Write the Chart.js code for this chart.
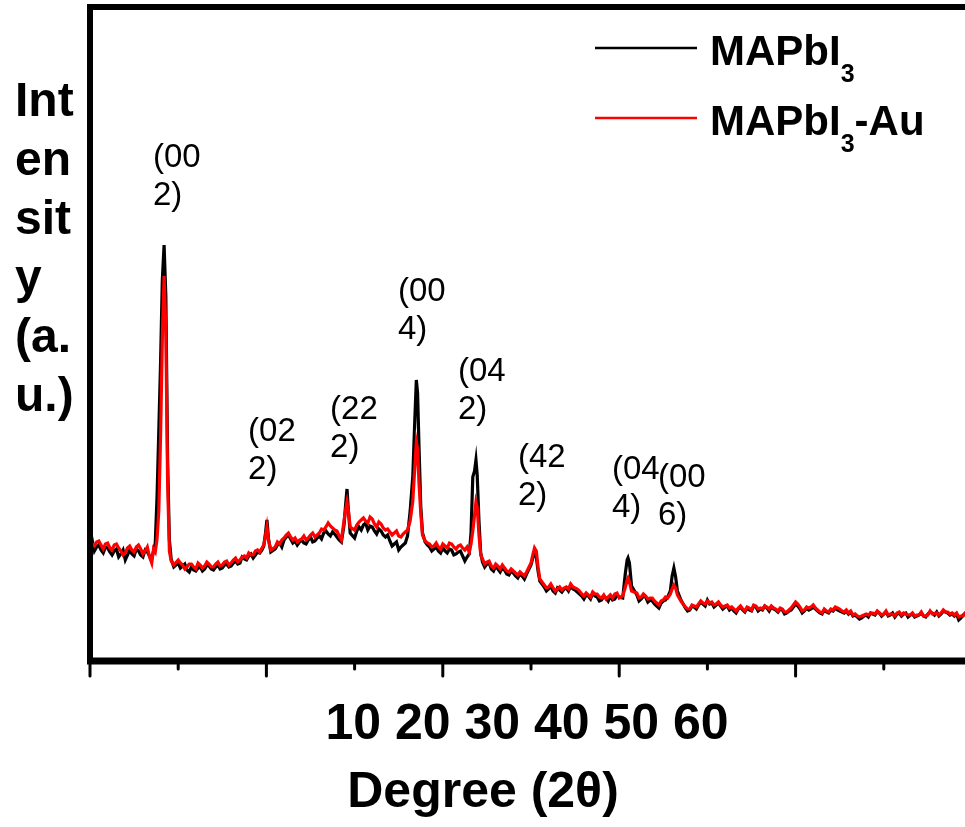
<!DOCTYPE html>
<html><head><meta charset="utf-8">
<script src="https://cdn.jsdelivr.net/npm/chart.js@4.4.1/dist/chart.umd.min.js"></script>
<style>
html,body{margin:0;padding:0;background:#fff;overflow:hidden;width:965px;height:827px;}
#wrap{position:absolute;left:0;top:0;width:975px;height:827px;}
</style></head><body>
<div id="wrap"><canvas id="c" width="975" height="827"></canvas></div>
<script>
// 2-theta positions (degrees)
const twoTheta = [
 10,10.125,10.25,10.375,10.5,10.625,10.75,10.875,11,11.125,11.25,11.375,11.5,11.625,11.75,11.875,12,12.125,12.25,12.375,12.5,12.625,12.75,12.875,13,13.125,13.25,13.375,13.5,
 13.6,13.7,13.8,13.9,14.0,14.1,14.2,14.3,14.4,14.5,14.6,14.75,
 15,15.125,15.25,15.375,15.5,15.625,15.75,15.875,16,16.125,16.25,16.375,16.5,16.625,16.75,16.875,17,17.125,17.25,17.375,17.5,17.625,17.75,17.875,18,18.125,18.25,18.375,18.5,18.625,18.75,18.875,19,19.125,19.25,19.375,19.5,19.625,19.75,
 19.85,19.95,20.03,20.12,20.25,
 20.5,20.625,20.75,20.875,21,21.125,21.25,21.375,21.5,21.625,21.75,21.875,22,22.125,22.25,22.375,22.5,22.625,22.75,22.875,23,23.125,23.25,23.375,23.5,23.625,23.75,23.875,24,24.125,24.25,
 24.4,24.5,24.57,24.65,24.75,
 25,25.125,25.25,25.375,25.5,25.625,25.75,25.875,26,26.125,26.25,26.375,26.5,26.625,26.75,26.875,27,27.125,27.25,27.375,27.5,27.625,27.75,27.875,28,
 28.15,28.3,28.4,28.5,28.57,28.65,28.75,28.85,
 29,29.125,29.25,29.375,29.5,29.625,29.75,29.875,30,30.125,30.25,30.375,30.5,30.625,30.75,30.875,31,31.125,31.25,31.375,31.5,
 31.6,31.7,31.8,31.88,31.95,32.05,32.15,
 32.25,32.375,32.5,32.625,32.75,32.875,33,33.125,33.25,33.375,33.5,33.625,33.75,33.875,34,34.125,34.25,34.375,34.5,34.625,34.75,
 35.0,35.1,35.2,35.3,35.4,35.5,
 35.75,35.875,36,36.125,36.25,36.375,36.5,36.625,36.75,36.875,37,37.125,37.25,37.375,37.5,37.625,37.75,37.875,38,38.125,38.25,38.375,38.5,38.625,38.75,38.875,39,39.125,39.25,39.375,39.5,39.625,39.75,39.875,40,40.2,
 40.35,40.45,40.5,40.58,40.7,
 41,41.125,41.25,41.375,41.5,41.625,41.75,41.875,42,42.125,42.25,42.375,42.5,42.625,42.75,42.9,
 43.0,43.1,43.2,43.3,43.5,
 43.75,43.875,44,44.125,44.25,44.375,44.5,44.625,44.75,44.875,45,
 45.125,45.25,45.375,45.5,45.625,45.75,45.875,46,
 46.125,46.25,46.375,46.5,46.625,46.75,46.875,47,
 47.125,47.25,47.375,47.5,47.625,47.75,47.875,48,
 48.125,48.25,48.375,48.5,48.625,48.75,48.875,49,
 49.125,49.25,49.375,49.5,49.625,49.75,49.875,50,
 50.125,50.25,50.375,50.5,50.625,50.75,50.875,51,
 51.125,51.25,51.375,51.5,51.625,51.75,51.875,52,
 52.125,52.25,52.375,52.5,52.625,52.75,52.875,53,
 53.125,53.25,53.375,53.5,53.625,53.75,53.875,54,
 54.125,54.25,54.375,54.5,54.625,54.75,54.875,55,
 55.125,55.25,55.375,55.5,55.625,55.75,55.875,56,
 56.125,56.25,56.375,56.5,56.625,56.75,56.875,57,
 57.125,57.25,57.375,57.5,57.625,57.75,57.875,58,
 58.125,58.25,58.375,58.5,58.625,58.75,58.875,59,
 59.125,59.25,59.375,59.5,59.625,59.75,59.875,60
];
// Intensity (a.u.) — MAPbI3 (black)
const intensityMAPbI3 = [
 117,121,110,114,116,111,108,114,113,109,106,110,112,104,107,111,101,106,111,107,105,112,110,106,104,111,109,105,102,
 110,118,164,230,298,381,416,364,200,121,102,94,
 98,93,95,97,91,89,94,91,90,93,94,90,92,96,95,92,91,94,96,92,93,96,97,94,95,98,100,97,98,104,102,101,105,107,103,106,109,108,111,
 115,128,141,122,109,
 112,116,118,114,121,124,126,122,118,120,116,119,121,118,117,121,124,119,120,123,125,122,128,130,127,125,129,127,124,121,119,
 136,158,172,150,128,
 123,130,134,131,136,138,131,135,134,130,127,132,130,126,124,126,120,115,117,119,111,114,116,118,125,
 150,185,235,281,268,215,155,128,
 119,116,114,110,112,114,110,108,113,110,108,112,111,106,107,109,110,105,100,104,107,
 128,184,190,201,186,140,108,
 99,94,97,98,92,90,95,92,89,93,91,87,86,90,88,85,83,87,85,82,87,
 96,103,108,104,90,80,
 74,70,72,75,70,68,73,71,69,72,73,70,75,72,71,69,67,65,62,66,65,62,68,65,64,60,61,65,63,60,65,61,62,66,64,63,
 88,101,103,98,75,
 66,60,62,65,64,59,61,60,57,55,53,58,60,61,64,70,
 85,93,84,70,61,
 53,50,51,55,54,52,56,59,57,55,61,
 57,58,54,56,58,55,52,54,
 55,51,53,50,48,52,54,51,
 49,53,51,50,55,54,50,52,
 51,55,53,50,54,52,51,49,
 52,51,47,48,50,51,54,57,
 55,52,48,50,53,51,52,54,
 52,50,48,47,51,49,48,51,
 50,53,51,50,49,48,50,47,
 49,45,46,44,42,43,45,46,
 44,48,47,46,49,48,45,47,
 49,45,46,48,44,47,48,45,
 47,48,44,46,47,44,45,46,
 48,45,44,47,49,48,46,49,
 45,47,50,49,48,46,47,45,
 47,41,43,46,48,47,45,46
];
// Intensity (a.u.) — MAPbI3-Au (red)
const intensityMAPbI3Au = [
 121,117,115,119,120,116,112,117,118,113,111,116,117,113,110,106,108,113,115,111,109,114,116,112,107,110,114,104,98,
 112,109,122,150,225,322,385,330,178,110,100,96,
 101,98,96,92,94,97,97,94,92,98,96,93,95,99,97,94,94,97,99,95,96,99,100,96,98,101,103,99,101,104,105,103,108,106,106,110,111,109,113,
 116,125,134,121,111,
 114,119,117,121,123,126,128,124,121,123,119,121,122,125,121,123,126,128,124,126,128,132,131,134,138,135,133,131,130,125,121,
 140,152,159,150,134,
 131,136,139,141,143,140,138,144,142,137,134,139,137,133,131,132,129,126,128,130,125,124,127,129,131,
 140,160,190,219,212,178,148,126,
 120,118,117,114,115,118,114,112,117,115,113,118,117,114,112,115,116,113,111,114,109,
 117,130,146,159,154,126,106,
 102,97,99,100,95,93,97,95,92,96,93,90,89,92,90,88,86,89,87,85,89,
 98,106,113,110,94,82,
 76,73,74,77,73,70,72,74,71,73,74,72,77,74,73,72,70,67,65,68,66,64,69,67,67,64,63,66,62,64,66,63,67,68,63,65,
 74,81,83,79,70,
 68,63,64,67,65,62,63,63,60,58,56,60,61,64,63,67,
 72,76,73,66,60,
 54,52,52,56,55,54,57,60,58,57,60,
 58,59,56,57,59,56,54,55,
 56,53,54,52,50,53,55,52,
 50,54,53,51,56,55,52,53,
 52,55,54,52,55,53,52,50,
 53,52,49,49,51,53,56,59,
 57,54,50,51,54,53,54,56,
 53,51,49,48,52,50,49,52,
 51,54,53,52,50,49,51,48,
 50,46,47,45,44,45,46,47,
 46,48,48,47,50,48,46,47,
 50,46,47,47,45,48,49,46,
 48,47,46,46,48,45,46,46,
 49,45,45,46,50,47,47,48,
 46,48,51,49,49,47,48,46,
 48,44,45,45,48,47,46,47
];
const seriesLabels = ['MAPbI₃', 'MAPbI₃-Au'];
const seriesColors = ['#000000', '#ff0000'];
const majorTicks = [10, 20, 30, 40, 50, 60];
const minorTicks = [15, 25, 35, 45, 55];
const xTickLabels = ['10', '20', '30', '40', '50', '60'];
const xTitle = 'Degree (2θ)';
const yTitleLines = ['Int', 'en', 'sit', 'y', '(a.', 'u.)'];
const peakLabels = ['(002)', '(022)', '(222)', '(004)', '(042)', '(422)', '(044)', '(006)'];
const peakLabelX = [13.57, 18.96, 23.61, 27.46, 30.86, 34.26, 39.59, 42.2];
const peakLabelY = [503, 229, 251, 369, 289, 203, 191, 183];

const FONT = '"Liberation Sans", Arial, Helvetica, sans-serif';

const deco = {
  id: 'deco',
  afterDraw(chart) {
    const ctx = chart.ctx;
    const ca = chart.chartArea;
    const xs = chart.scales.x, ys = chart.scales.y;
    ctx.save();
    // frame
    ctx.strokeStyle = '#000';
    ctx.lineCap = 'butt';
    ctx.lineWidth = 6;
    ctx.beginPath();
    ctx.moveTo(ca.left, ca.bottom + 3); ctx.lineTo(ca.left, ca.top - 3);
    ctx.moveTo(ca.left - 3, ca.top); ctx.lineTo(chart.width, ca.top);
    ctx.stroke();
    ctx.lineWidth = 7;
    ctx.beginPath();
    ctx.moveTo(ca.left - 3, ca.bottom); ctx.lineTo(chart.width, ca.bottom);
    ctx.stroke();
    // ticks
    ctx.lineWidth = 3;
    ctx.lineCap = 'round';
    ctx.beginPath();
    majorTicks.forEach(v => { const px = xs.getPixelForValue(v); ctx.moveTo(px, ca.bottom); ctx.lineTo(px, ca.bottom + 15); });
    minorTicks.forEach(v => { const px = xs.getPixelForValue(v); ctx.moveTo(px, ca.bottom); ctx.lineTo(px, ca.bottom + 8); });
    ctx.stroke();
    // x tick labels (grouped, as in reference)
    ctx.fillStyle = '#000';
    ctx.font = 'bold 50px ' + FONT;
    ctx.textAlign = 'center';
    ctx.textBaseline = 'alphabetic';
    ctx.fillText(xTickLabels.join(' '), 527, 739);
    // x title
    ctx.font = 'bold 50px ' + FONT;
    ctx.fillText(xTitle, 483, 807);
    // y title (wrapped)
    ctx.font = 'bold 48px ' + FONT;
    ctx.textAlign = 'left';
    yTitleLines.forEach((t, i) => ctx.fillText(t, 15, 116 + 59 * i));
    // peak labels
    ctx.font = '33px ' + FONT;
    ctx.textBaseline = 'middle';
    peakLabels.forEach((t, i) => {
      const px = xs.getPixelForValue(peakLabelX[i]);
      const py = ys.getPixelForValue(peakLabelY[i]);
      ctx.fillText(t.slice(0, 3), px, py);
      ctx.fillText(t.slice(3), px, py + 38);
    });
    // legend
    ctx.textBaseline = 'alphabetic';
    seriesLabels.forEach((lab, i) => {
      const base = 65 + 70 * i;
      ctx.strokeStyle = seriesColors[i];
      ctx.lineWidth = 2.5;
      ctx.lineCap = 'butt';
      ctx.beginPath(); ctx.moveTo(595, base - 17); ctx.lineTo(697, base - 17); ctx.stroke();
      const parts = lab.split('₃');
      let x = 710;
      ctx.font = 'bold 42px ' + FONT;
      ctx.fillText(parts[0], x, base); x += ctx.measureText(parts[0]).width;
      ctx.font = 'bold 25px ' + FONT;
      ctx.fillText('3', x, base + 17); x += ctx.measureText('3').width;
      if (parts[1]) { ctx.font = 'bold 42px ' + FONT; ctx.fillText(parts[1], x, base); }
    });
    ctx.restore();
  }
};

const mk = arr => twoTheta.map((x, i) => ({ x: x, y: arr[i] }));

new Chart(document.getElementById('c'), {
  type: 'line',
  data: {
    datasets: [
      { label: seriesLabels[0], data: mk(intensityMAPbI3), borderColor: seriesColors[0], borderWidth: 3.2, pointRadius: 0, tension: 0, fill: false, order: 2 },
      { label: seriesLabels[1], data: mk(intensityMAPbI3Au), borderColor: seriesColors[1], borderWidth: 3.2, pointRadius: 0, tension: 0, fill: false, order: 1 }
    ]
  },
  options: {
    responsive: false,
    animation: false,
    devicePixelRatio: 1,
    layout: { padding: { left: 90, top: 7, right: 3, bottom: 166 } },
    plugins: { legend: { display: false }, tooltip: { enabled: false } },
    scales: {
      x: { type: 'linear', min: 10, max: 60, display: false },
      y: { min: 0, max: 654, display: false }
    }
  },
  plugins: [deco]
});
</script>
</body></html>
